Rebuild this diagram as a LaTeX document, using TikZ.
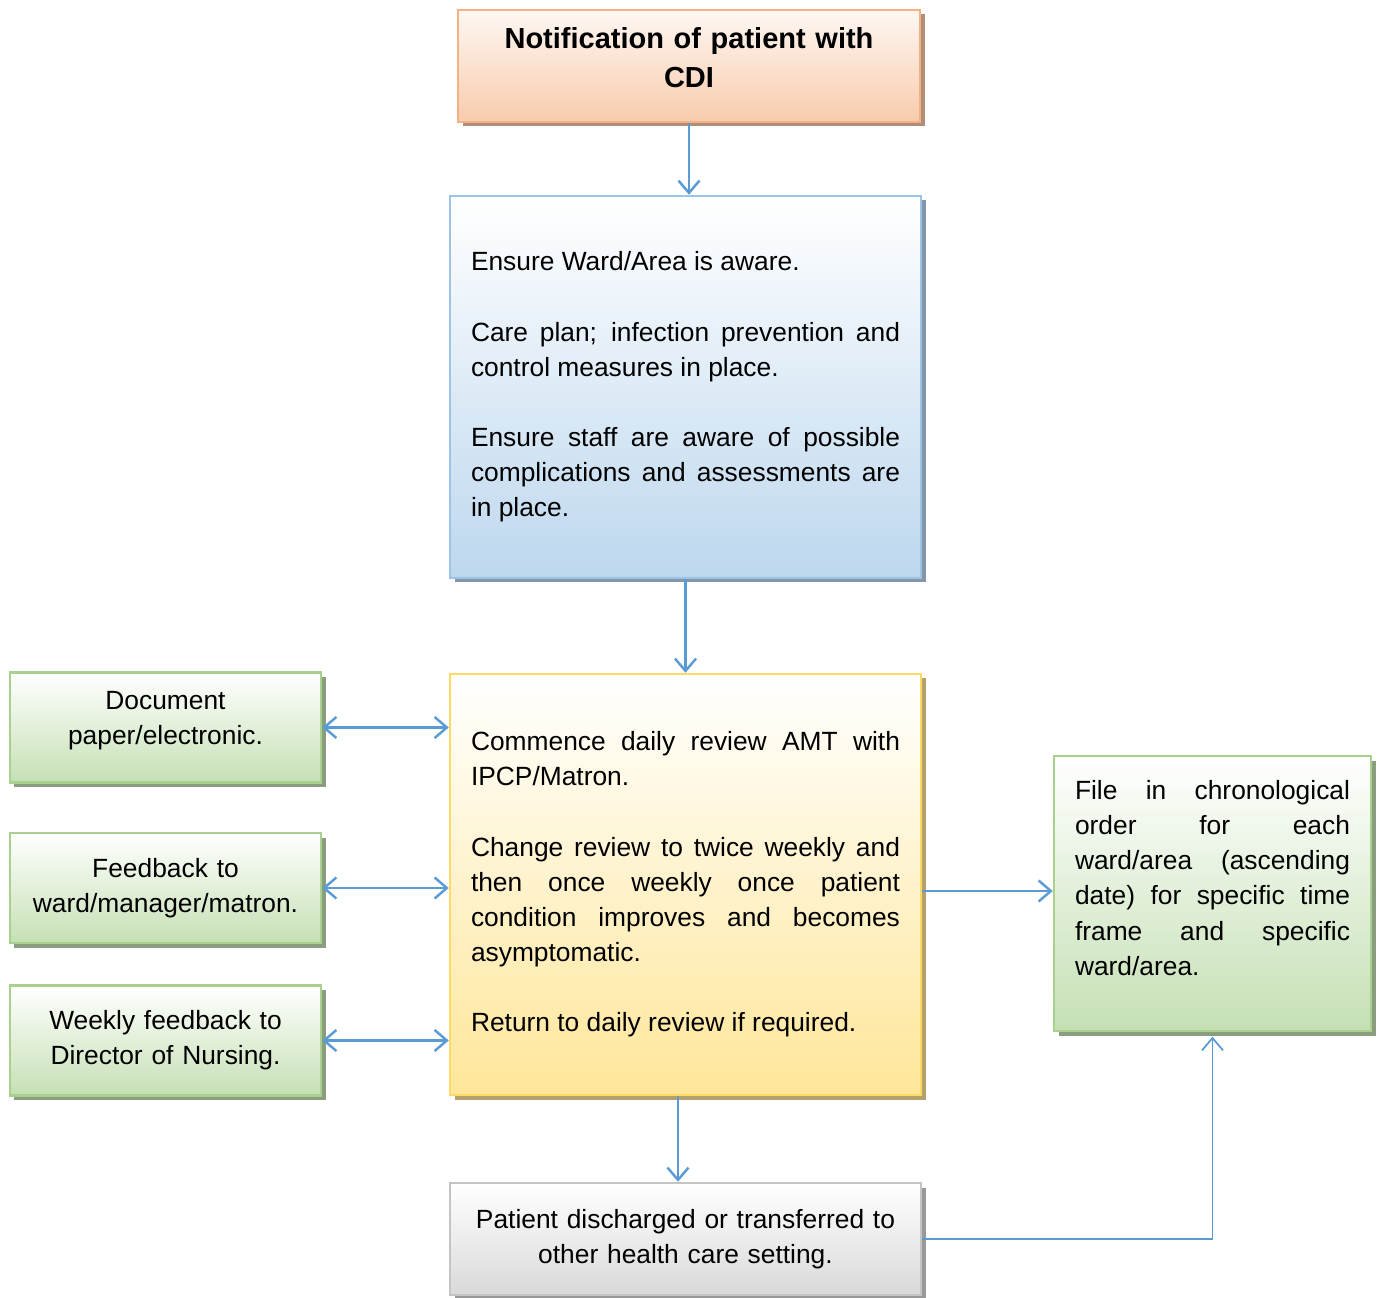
\documentclass[tikz,border=0pt]{standalone}
\usepackage{fontspec}
\setmainfont{Liberation Sans}
\usetikzlibrary{arrows.meta,shadows}
\setlength{\parindent}{0pt}
\hyphenpenalty=10000
\exhyphenpenalty=10000
\definecolor{arrowblue}{HTML}{5B9BD5}
\definecolor{orangeline}{HTML}{F4B183}
\definecolor{orangefill}{HTML}{F8CBAD}
\definecolor{blueline}{HTML}{9DC3E6}
\definecolor{bluefill}{HTML}{BDD7EE}
\definecolor{yellowline}{HTML}{FFD966}
\definecolor{yellowfill}{HTML}{FFE699}
\definecolor{greenline}{HTML}{A9D18E}
\definecolor{greenfill}{HTML}{C5E0B4}
\definecolor{grayline}{HTML}{C4C4C4}
\definecolor{grayfill}{HTML}{D9D9D9}
\newcommand{\blankline}{\par\vspace{20pt}}
\tikzset{
  box/.style={line width=1.4pt, inner xsep=0.42cm, inner ysep=0pt,
    font=\fontsize{15}{20}\selectfont},
  flowbox/.style 2 args={box, draw=#1, top color=white, bottom color=#2,
    drop shadow={shadow xshift=0.09cm, shadow yshift=-0.09cm,
      fill=#2!70!black, opacity=1}},
  link/.style={draw=arrowblue, line width=1.4pt,
    -{Straight Barb[length=7pt,width=12pt]}},
  twoway/.style={link, {Straight Barb[length=7pt,width=12pt]}-{Straight Barb[length=7pt,width=12pt]}}
}

\begin{document}
\begin{tikzpicture}
  \useasboundingbox (0,0) rectangle (27.56,-25.96);
  % main column
  \node[flowbox={orangeline}{orangefill}, top color=orangefill!15, align=center,
    text width=8.4cm, minimum width=9.24cm, minimum height=2.24cm, text depth=1.1cm,
    font=\fontsize{16.5}{22}\selectfont\bfseries] (notify) at (13.78,-1.32)
    {Notification of patient with\\ CDI};
  \node[flowbox={blueline}{bluefill}, align=justify, text width=8.58cm,
    minimum height=7.64cm] (aware) at (13.71,-7.74)
    {Ensure Ward/Area is aware.\blankline
     Care plan; infection prevention and control measures in place.\blankline
     Ensure staff are aware of possible complications and assessments are in place.};
  \node[flowbox={yellowline}{yellowfill}, align=justify, text width=8.58cm,
    minimum height=8.42cm] (review) at (13.71,-17.69)
    {Commence daily review AMT with IPCP/Matron.\blankline
     Change review to twice weekly and then once weekly once patient\linebreak
     condition improves and becomes asymptomatic.\blankline
     Return to daily review if required.};
  \node[flowbox={grayline}{grayfill}, align=center, text width=8.58cm,
    minimum height=2.24cm] (discharge) at (13.71,-24.78)
    {Patient discharged or transferred to\\ other health care setting.};
  % side boxes
  \node[flowbox={greenline}{greenfill}, align=center, text width=5.38cm,
    minimum height=2.2cm, text depth=1.1cm] (doc) at (3.31,-14.55)
    {Document\\ paper/electronic.};
  \node[flowbox={greenline}{greenfill}, align=center, text width=5.38cm,
    minimum height=2.2cm] (feedback) at (3.31,-17.76)
    {Feedback to\\ ward/manager/matron.};
  \node[flowbox={greenline}{greenfill}, align=center, text width=5.38cm,
    minimum height=2.2cm] (weekly) at (3.31,-20.81)
    {Weekly feedback to\\ Director of Nursing.};
  \node[flowbox={greenline}{greenfill}, align=justify, text width=5.5cm,
    minimum height=5.5cm, text depth=4.14cm] (file) at (24.25,-17.87)
    {File in chronological\linebreak order for each\linebreak
     ward/area (ascending\linebreak date) for specific time\linebreak
     frame and specific\linebreak ward/area.};
  % connectors
  \draw[link] (notify.south) -- (notify.south |- aware.north);
  \draw[link] (aware.south) -- (review.north);
  \draw[twoway] (doc.east) -- (doc.east -| review.west);
  \draw[twoway] (feedback.east) -- (feedback.east -| review.west);
  \draw[twoway] (weekly.east) -- (weekly.east -| review.west);
  \draw[link] ([yshift=-0.13cm]review.east) -- ([yshift=-0.13cm]review.east -| file.west);
  \draw[link] ([xshift=-0.15cm]review.south) -- ([xshift=-0.15cm]review.south |- discharge.north);
  \draw[link, line width=1pt] (discharge.east) -| ([yshift=-0.09cm]file.south);
\end{tikzpicture}
\end{document}
